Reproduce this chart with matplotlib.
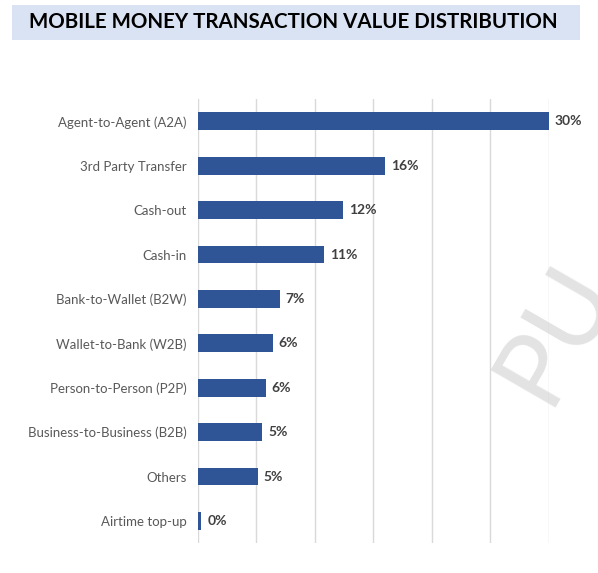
import matplotlib
matplotlib.use("Agg")
import matplotlib.pyplot as plt
from matplotlib.patches import Rectangle

categories = ["Agent-to-Agent (A2A)", "3rd Party Transfer", "Cash-out", "Cash-in",
              "Bank-to-Wallet (B2W)", "Wallet-to-Bank (W2B)", "Person-to-Person (P2P)",
              "Business-to-Business (B2B)", "Others", "Airtime top-up"]
values = [30, 16, 12.4, 10.8, 7.0, 6.4, 5.8, 5.5, 5.1, 0.3]
labels = ["30%", "16%", "12%", "11%", "7%", "6%", "6%", "5%", "5%", "0%"]

plt.rcParams['font.family'] = ['Lato', 'DejaVu Sans']

fig = plt.figure(figsize=(5.98, 5.73), dpi=100)
ax = fig.add_axes([0.331, 0.052, 0.587, 0.775])

y = list(range(len(categories)))[::-1]
ax.barh(y, values, height=0.4, color="#2F5597", zorder=3)
for yi, v, lab in zip(y, values, labels):
    ax.text(v + 0.5, yi, lab, va="center", ha="left", fontsize=10,
            fontweight="bold", color="#404040", clip_on=False)

ax.set_xlim(0, 30)
ax.set_ylim(-0.5, len(categories) - 0.5)
ax.set_xticks(range(0, 31, 5))
ax.set_xticklabels([])
ax.tick_params(axis="x", length=0)
ax.tick_params(axis="y", length=0, labelsize=9.5, labelcolor="#595959", pad=8)
ax.set_yticks(y)
ax.set_yticklabels(categories)
ax.grid(axis="x", color="#D9D9D9", linewidth=1, zorder=0)
for s in ax.spines.values():
    s.set_visible(False)

# title banner
fig.patches.append(Rectangle((0.02, 0.93), 0.95, 0.062, transform=fig.transFigure,
                             facecolor="#DAE3F3", edgecolor="none"))
fig.text(0.49, 0.961, "MOBILE MONEY TRANSACTION VALUE DISTRIBUTION", ha="center",
         va="center", fontsize=14.8, fontweight="bold", color="#000000")

# faint watermark
fig.text(0.93, 0.42, "PU", rotation=60, fontsize=75, color="#D0D0D0", alpha=0.6,
         ha="center", va="center", zorder=0)

fig.savefig("out.png", dpi=100)
